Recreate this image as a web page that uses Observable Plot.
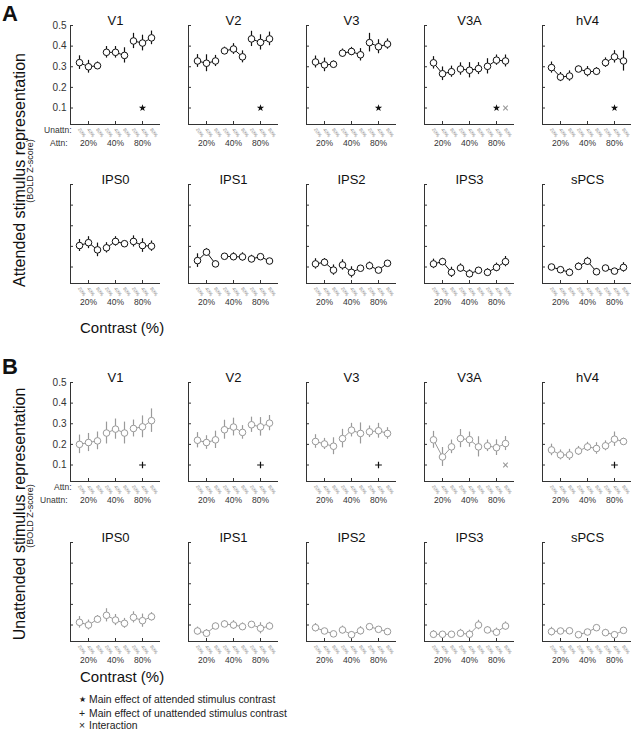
<!DOCTYPE html>
<html><head><meta charset="utf-8">
<script src="https://cdn.jsdelivr.net/npm/d3@7"></script>
<script src="https://cdn.jsdelivr.net/npm/@observablehq/plot@0.6"></script>
<style>
body{margin:0;background:#fff;font-family:"Liberation Sans",Arial,Helvetica,sans-serif;color:#111;}
#root{position:relative;width:631px;height:732px;overflow:hidden;background:#fff;}
.abs{position:absolute;white-space:nowrap;}
.letter{font-weight:bold;font-size:22px;line-height:22px;}
.ylab{width:320px;text-align:center;font-size:16px;line-height:18px;transform:rotate(-90deg);}
.ysub{width:200px;text-align:center;font-size:9px;line-height:10px;transform:rotate(-90deg);color:#222;}
.xlab{font-size:15px;line-height:16px;}
.leg{font-size:10.4px;line-height:12px;color:#222;}
</style></head><body><div id="root"></div><script>
// ---------- data ----------
const regions = ["V1","V2","V3","V3A","hV4","IPS0","IPS1","IPS2","IPS3","sPCS"];
const contrasts = ["20%","40%","80%"];
const yTicks = [0.1,0.2,0.3,0.4,0.5];
const yDomain = [0.02,0.5];

// Panel A: attended stimulus representation (9 conditions: attended 20/40/80 x unattended 20/40/80)
const attendedMeans = [
  [0.320,0.300,0.305,0.370,0.370,0.355,0.425,0.415,0.440],
  [0.328,0.317,0.328,0.377,0.386,0.348,0.435,0.418,0.435],
  [0.323,0.309,0.312,0.366,0.374,0.358,0.417,0.397,0.410],
  [0.319,0.266,0.276,0.289,0.283,0.291,0.302,0.332,0.328],
  [0.296,0.250,0.255,0.289,0.276,0.278,0.320,0.348,0.328],
  [0.204,0.218,0.183,0.193,0.224,0.213,0.224,0.204,0.201],
  [0.131,0.172,0.115,0.152,0.150,0.149,0.139,0.150,0.129],
  [0.115,0.123,0.085,0.110,0.074,0.094,0.106,0.085,0.118],
  [0.115,0.126,0.074,0.095,0.067,0.084,0.074,0.098,0.126],
  [0.100,0.087,0.074,0.103,0.128,0.077,0.095,0.080,0.098]
];
const attendedErrs = [
  [0.033,0.031,0.018,0.028,0.028,0.037,0.037,0.038,0.033],
  [0.031,0.041,0.027,0.018,0.026,0.029,0.037,0.037,0.033],
  [0.029,0.033,0.016,0.020,0.020,0.030,0.045,0.034,0.025],
  [0.030,0.033,0.027,0.030,0.037,0.029,0.037,0.025,0.029],
  [0.027,0.022,0.025,0.014,0.025,0.018,0.023,0.030,0.049],
  [0.029,0.029,0.033,0.025,0.023,0.012,0.027,0.033,0.025],
  [0.033,0.018,0.016,0.012,0.019,0.020,0.018,0.008,0.011],
  [0.025,0.018,0.025,0.025,0.027,0.012,0.018,0.008,0.012],
  [0.023,0.016,0.025,0.020,0.019,0.014,0.018,0.021,0.025],
  [0.010,0.011,0.016,0.017,0.019,0.016,0.012,0.010,0.023]
];
// Panel B: unattended stimulus representation
const unattendedMeans = [
  [0.200,0.209,0.217,0.255,0.274,0.255,0.277,0.285,0.315],
  [0.220,0.209,0.222,0.271,0.284,0.258,0.295,0.285,0.303],
  [0.214,0.202,0.191,0.228,0.269,0.253,0.261,0.266,0.253],
  [0.222,0.139,0.188,0.228,0.223,0.188,0.193,0.184,0.204],
  [0.173,0.149,0.149,0.168,0.188,0.180,0.193,0.225,0.214],
  [0.113,0.100,0.128,0.147,0.124,0.108,0.137,0.121,0.140],
  [0.071,0.060,0.095,0.105,0.100,0.092,0.103,0.084,0.095],
  [0.087,0.071,0.057,0.076,0.053,0.072,0.092,0.079,0.068],
  [0.055,0.055,0.055,0.060,0.055,0.100,0.076,0.065,0.095],
  [0.068,0.071,0.072,0.053,0.066,0.087,0.063,0.053,0.074]
];
const unattendedErrs = [
  [0.045,0.044,0.043,0.053,0.049,0.053,0.041,0.053,0.057],
  [0.037,0.033,0.042,0.046,0.043,0.033,0.037,0.045,0.037],
  [0.033,0.027,0.041,0.045,0.033,0.051,0.028,0.036,0.028],
  [0.041,0.046,0.033,0.044,0.037,0.049,0.028,0.038,0.034],
  [0.028,0.024,0.027,0.022,0.022,0.028,0.024,0.035,0.016],
  [0.028,0.024,0.018,0.032,0.027,0.024,0.027,0.032,0.020],
  [0.019,0.018,0.014,0.016,0.021,0.018,0.014,0.027,0.018],
  [0.020,0.012,0.010,0.019,0.014,0.020,0.013,0.013,0.011],
  [0.018,0.008,0.008,0.019,0.020,0.023,0.016,0.020,0.020],
  [0.021,0.008,0.010,0.010,0.010,0.012,0.016,0.014,0.012]
];
// significance markers per region: "star" attended main effect, "plus" unattended main effect, "times" interaction
const attendedSig = [["star"],["star"],["star"],["star","times"],["star"],[],[],[],[],[]];
const unattendedSig = [["plus"],["plus"],["plus"],["times"],["plus"],[],[],[],[],[]];
const sigLevel = 0.1;

// ---------- layout ----------
const colLeft = [70,188,306,424,542];
const rowTop = {A: [25,184], B: [382,542]};
const ML = 30, MR = 8, MT = 22, MB = 36, PW = 90, PH = 99;
const root = document.getElementById("root");
const axisColor = "#333";

function place(el, left, top) {
  el.style.position = "absolute";
  el.style.left = left + "px";
  el.style.top = top + "px";
  root.appendChild(el);
}
function html(cls, text, left, top, extra) {
  const d = document.createElement("div");
  d.className = "abs " + cls;
  d.textContent = text;
  d.style.left = left + "px";
  d.style.top = top + "px";
  if (extra) Object.assign(d.style, extra);
  root.appendChild(d);
  return d;
}

function panel(title, means, errs, sig, color, opt) {
  const data = means.map((m, i) => ({x: i + 1, y: m, e: errs[i], g: Math.floor(i / 3), u: contrasts[i % 3]}));
  const groupCenters = contrasts.map((c, k) => ({x: 3 * k + 2, t: c}));
  const sigData = sig.map(s => ({x: s === "times" ? 9 : 8, y: sigLevel, s}));
  const marks = [
    Plot.ruleX([0], {stroke: axisColor, strokeWidth: 1}),
    Plot.ruleY([yDomain[0]], {stroke: axisColor, strokeWidth: 1}),
    Plot.axisY({ticks: yTicks, tickSize: -3, tickPadding: 7, stroke: axisColor, label: null,
      tickFormat: opt.yLabels ? d3.format(".1f") : () => "", fontSize: 10, fill: "#333"}),
    Plot.axisX({ticks: [2,5,8], tickSize: -3, tickFormat: () => "", label: null, stroke: axisColor}),
    Plot.text(groupCenters, {x: "x", text: "t", frameAnchor: "bottom", dy: 21, fontSize: 8.5, fill: "#333"}),
    Plot.text(data, {x: "x", text: "u", frameAnchor: "bottom", rotate: 55, textAnchor: "middle", dx: 1, dy: 9, fontSize: 5, fill: "#8a8a8a"}),
    Plot.line(data, {x: "x", y: "y", z: "g", stroke: color, strokeWidth: 1}),
    Plot.ruleX(data, {x: "x", y1: d => d.y - d.e, y2: d => d.y + d.e, stroke: color, strokeWidth: 1.2}),
    Plot.dot(data, {x: "x", y: "y", r: 3.3, fill: "white", stroke: color, strokeWidth: 1}),
    Plot.dot(sigData.filter(d => d.s === "star"), {x: "x", y: "y", symbol: "star", r: 2.3, fill: "#111", stroke: "none"}),
    Plot.dot(sigData.filter(d => d.s === "plus"), {x: "x", y: "y", symbol: "plus", r: 2.3, stroke: "#111", strokeWidth: 1.2}),
    Plot.dot(sigData.filter(d => d.s === "times"), {x: "x", y: "y", symbol: "times", r: 2.2, stroke: "#999", strokeWidth: 1.1}),
    Plot.text([title], {frameAnchor: "top", dy: -10, fontSize: 13, fill: "#111"})
  ];
  if (opt.rowLabels) {
    marks.push(Plot.text([opt.rowLabels[0]], {frameAnchor: "bottom-left", textAnchor: "end", dx: 1, dy: 8, fontSize: 8.5, fill: "#333"}));
    marks.push(Plot.text([opt.rowLabels[1]], {frameAnchor: "bottom-left", textAnchor: "end", dx: -3, dy: 21, fontSize: 8.5, fill: "#333"}));
  }
  return Plot.plot({
    width: ML + PW + MR, height: MT + PH + MB,
    marginLeft: ML, marginRight: MR, marginTop: MT, marginBottom: MB,
    x: {domain: [0, 10], axis: null},
    y: {domain: yDomain, axis: null},
    style: {background: "none", overflow: "visible", fontFamily: "'Liberation Sans', Arial, sans-serif"},
    marks
  });
}

function buildPanel(key, meansArr, errsArr, sigArr, color, rowLabels) {
  regions.forEach((r, i) => {
    const row = Math.floor(i / 5), col = i % 5;
    const first = row === 0 && col === 0;
    const svg = panel(r, meansArr[i], errsArr[i], sigArr[i], color, {yLabels: first, rowLabels: first ? rowLabels : null});
    place(svg, colLeft[col] - ML, rowTop[key][row] - MT);
  });
}

buildPanel("A", attendedMeans, attendedErrs, attendedSig, "#111", ["Unattn:", "Attn:"]);
buildPanel("B", unattendedMeans, unattendedErrs, unattendedSig, "#9a9a9a", ["Attn:", "Unattn:"]);

// panel letters and axis titles
html("letter", "A", 2, 3);
html("letter", "B", 2, 356);
html("ylab", "Attended stimulus representation", 20 - 160, 170 - 9);
html("ysub", "(BOLD Z-score)", 30 - 100, 171 - 5);
html("ylab", "Unattended stimulus representation", 20 - 160, 514 - 9);
html("ysub", "(BOLD Z-score)", 30 - 100, 516 - 5);
html("xlab", "Contrast (%)", 80, 320);
html("xlab", "Contrast (%)", 80, 669);

// legend
const legendSymbols = ["★", "+", "×"];
const legendTexts = ["Main effect of attended stimulus contrast", "Main effect of unattended stimulus contrast", "Interaction"];
const legendY = [700, 714, 726];
legendTexts.forEach((t, i) => {
  html("leg", legendSymbols[i], 79, legendY[i] - 6, {fontSize: i === 0 ? "8px" : "10.4px", lineHeight: "12px"});
  html("leg", t, 89, legendY[i] - 6);
});
</script></body></html>
